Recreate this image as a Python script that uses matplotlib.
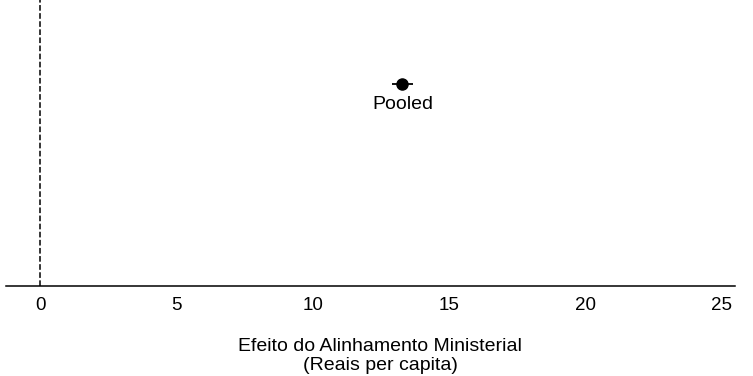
import matplotlib
matplotlib.use("Agg")
import matplotlib.pyplot as plt

plt.rcParams['font.family'] = ['Liberation Sans', 'DejaVu Sans']

labels = ["Pooled"]
estimates = [13.3]
ci_low = [12.9]
ci_high = [13.7]
xticks = [0, 5, 10, 15, 20, 25]

fig = plt.figure(figsize=(7.53, 3.76), dpi=100)
ax = fig.add_axes([0.008, 0.239, 0.968, 0.761])

ypos = [1.0]
xerr = [[e - lo for e, lo in zip(estimates, ci_low)],
        [hi - e for e, hi in zip(estimates, ci_high)]]
ax.errorbar(estimates, ypos, xerr=xerr, fmt="o", color="black",
            markersize=8, elinewidth=1.3, capsize=0)
for lab, x, y in zip(labels, estimates, ypos):
    ax.annotate(lab, (x, y), xytext=(0, -8.5), textcoords="offset points",
                ha="center", va="top", fontsize=14)

ax.axvline(0, color="black", linestyle="--", linewidth=1.1)

ax.set_xlim(-1.25, 25.5)
ax.set_ylim(0, 1.416)
ax.set_xticks(xticks)
ax.tick_params(axis="x", length=0, labelsize=13.5, pad=8)
ax.set_yticks([])
for s in ["top", "left", "right"]:
    ax.spines[s].set_visible(False)
ax.spines["bottom"].set_linewidth(1.1)

ax.set_xlabel("Efeito do Alinhamento Ministerial\n(Reais per capita)",
              fontsize=14, linespacing=1.2)
ax.xaxis.set_label_coords(0.513, -0.18, transform=ax.transAxes)
ax.xaxis.label.set_va("top")

fig.savefig("out.png", dpi=100)
